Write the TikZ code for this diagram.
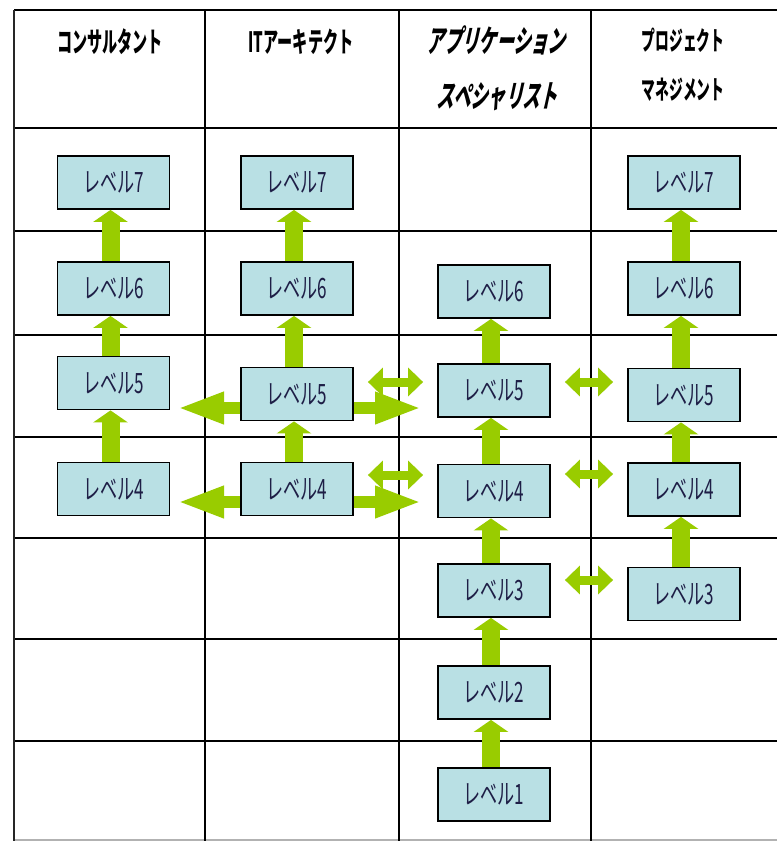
\documentclass[tikz,border=0pt]{standalone}
\usepackage{fontspec}
\usepackage{graphicx}
\newfontfamily\jpbox{Noto Sans CJK JP}[FakeStretch=0.61]
\newfontfamily\jphead{Noto Sans CJK JP}[FakeStretch=0.54]
\newfontfamily\jpheadpm{Noto Sans CJK JP}[FakeStretch=0.53]
\newfontfamily\jpheadsl{Noto Sans CJK JP}[FakeStretch=0.56, FakeSlant=0.22]
\usetikzlibrary{arrows.meta}
\definecolor{boxblue}{RGB}{185,224,228}
\definecolor{arrgreen}{RGB}{153,204,0}
\definecolor{boxtext}{RGB}{30,30,70}
\begin{document}
\begin{tikzpicture}[x=1pt,y=-1pt,
  lvbox/.style={draw=black, line width=1.8pt, fill=boxblue, minimum width=112pt, minimum height=53pt, inner sep=0pt, font=\jpbox\fontsize{28}{28}\selectfont, text=boxtext},
  headtxt/.style={inner sep=0pt, font=\jphead\bfseries\fontsize{28}{28}\selectfont},
  headsl/.style={inner sep=0pt, font=\jpheadsl\bfseries\fontsize{31}{31}\selectfont},
  headpm/.style={inner sep=0pt, font=\jpheadpm\bfseries\fontsize{26}{26}\selectfont},
  uparr/.style={draw=arrgreen, line width=18pt, -{Triangle[width=34pt,length=12pt]}},
  harr/.style={draw=arrgreen, line width=12pt, -{Triangle[width=29pt,length=47pt]}},
  dblarr/.style={draw=arrgreen, line width=9pt, {Triangle[width=28pt,length=15pt]}-{Triangle[width=28pt,length=15pt]}, shorten <=14pt, shorten >=14pt},
  gridthick/.style={line width=2.6pt, draw=black},
  gridrow/.style={line width=2pt, draw=black},
  gridcol/.style={line width=1.4pt, draw=black}
]
\useasboundingbox (0,0) rectangle (777,841);
\fill[white] (0,0) rectangle (777,841);

% grid
\draw[gridthick] (14,10) -- (777,10);
\draw[gridthick] (14,128) -- (777,128);
\foreach \yy in {231,335,437,538,639,741} \draw[gridrow] (14,\yy) -- (777,\yy);
\draw[line width=1.5pt, draw=black!30] (14,840) -- (777,840);
\draw[line width=2.4pt, draw=black!85] (14,10) -- (14,841);
\foreach \xx in {205,399,591} \draw[gridcol] (\xx,10) -- (\xx,841);

% headers
\node[headtxt] (h1) at (110,42) {コンサルタント};
\node[headtxt] (h2) at (301,42) {ITアーキテクト};
\node[headsl] (h3a) at (496,40) {アプリケーション};
\node[headsl] (h3b) at (497,97) {スペシャリスト};
\node[headpm] (h4a) at (683,40) {プロジェクト};
\node[headpm] (h4b) at (683,90) {マネジメント};

% boxes column 1
\node[lvbox] (c1l7) at (113.5,182.5) {レベル7};
\node[lvbox] (c1l6) at (113.5,288.5) {レベル6};
\node[lvbox] (c1l5) at (113.5,383) {レベル5};
\node[lvbox] (c1l4) at (113.5,489) {レベル4};
% column 2
\node[lvbox] (c2l7) at (297,182.5) {レベル7};
\node[lvbox] (c2l6) at (297,288.5) {レベル6};
\node[lvbox] (c2l5) at (297,394) {レベル5};
\node[lvbox] (c2l4) at (297,489) {レベル4};
% column 3
\node[lvbox] (c3l6) at (494,291.5) {レベル6};
\node[lvbox] (c3l5) at (494,390.5) {レベル5};
\node[lvbox] (c3l4) at (494,491) {レベル4};
\node[lvbox] (c3l3) at (494,590.5) {レベル3};
\node[lvbox] (c3l2) at (494,692.5) {レベル2};
\node[lvbox] (c3l1) at (494,794.5) {レベル1};
% column 4
\node[lvbox] (c4l7) at (684,182.5) {レベル7};
\node[lvbox] (c4l6) at (684,288.5) {レベル6};
\node[lvbox] (c4l5) at (684,395) {レベル5};
\node[lvbox] (c4l4) at (684,489.5) {レベル4};
\node[lvbox] (c4l3) at (684,594) {レベル3};

% vertical arrows
\foreach \lo/\hi in {c1l6/c1l7, c1l5/c1l6, c1l4/c1l5,
                     c2l6/c2l7, c2l5/c2l6, c2l4/c2l5,
                     c3l5/c3l6, c3l4/c3l5, c3l3/c3l4, c3l2/c3l3, c3l1/c3l2,
                     c4l6/c4l7, c4l5/c4l6, c4l4/c4l5, c4l3/c4l4}
  \draw[uparr] ([xshift=-3pt]\lo.north) -- ([xshift=-3pt]\hi.south);

% horizontal single arrows from IT architect boxes
\coordinate (tl5) at (177,408);
\coordinate (tr5) at (422,408);
\coordinate (tl4) at (177,502);
\coordinate (tr4) at (422,502);
\draw[harr] (c2l5.west |- tl5) -- (tl5);
\draw[harr] (c2l5.east |- tr5) -- (tr5);
\draw[harr] (c2l4.west |- tl4) -- (tl4);
\draw[harr] (c2l4.east |- tr4) -- (tr4);

% double arrows
\draw[dblarr] (c2l5.east |- 0,382) -- (c3l5.west |- 0,382);
\draw[dblarr] (c2l4.east |- 0,475) -- (c3l4.west |- 0,475);
\draw[dblarr] (c3l5.east |- 0,382) -- (c4l5.west |- 0,382);
\draw[dblarr] (c3l4.east |- 0,474) -- (c4l4.west |- 0,474);
\draw[dblarr] (c3l3.east |- 0,580) -- (c4l3.west |- 0,580);
\end{tikzpicture}
\end{document}
